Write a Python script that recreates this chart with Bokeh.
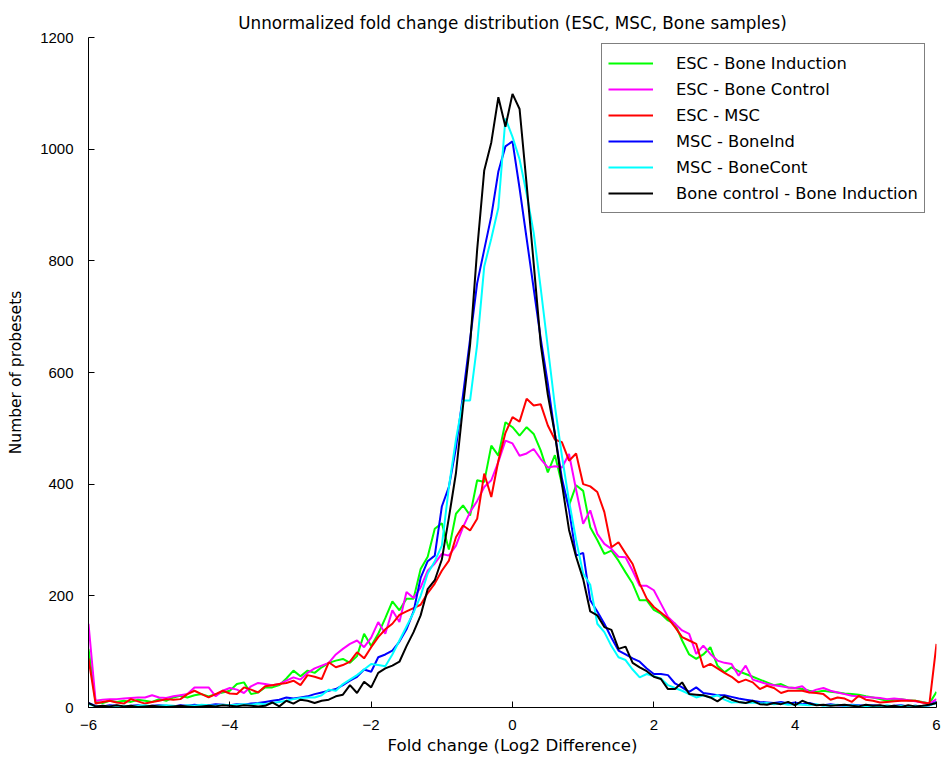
import numpy as np
from bokeh.plotting import figure
from bokeh.models import Legend, LegendItem, FixedTicker, Range1d
from bokeh.embed import file_html
from bokeh.resources import INLINE

# Histogram bins: -6.0 .. 6.0 in steps of 0.1
bin_start = -6.0
bin_width = 0.1
n_bins = 121
fold_change = [round(bin_start + i * bin_width, 1) for i in range(n_bins)]

esc_bone_induction = [
    105, 10, 8, 12, 10, 12, 10, 14, 12, 10,
    15, 12, 18, 21, 18, 22, 24, 20, 24, 27,
    30, 42, 45, 24, 27, 36, 36, 40, 52, 66,
    56, 66, 62, 72, 80, 84, 87, 80, 92, 132,
    110, 132, 160, 190, 174, 195, 195, 248, 270, 320,
    330, 283, 347, 362, 344, 407, 404, 469, 451, 511,
    502,
    487, 502, 490, 460, 421, 452, 400, 362, 398, 388,
    323, 300, 275, 281, 263, 242, 222, 192, 192, 175,
    168, 156, 150, 120, 95, 87, 95, 108, 75, 63,
    72, 65, 60, 55, 50, 45, 40, 42, 36, 35,
    33, 30, 28, 30, 28, 27, 25, 24, 23, 20,
    18, 15, 12, 14, 15, 13, 12, 10, 7, 28,
]

esc_bone_control = [
    150, 12, 14, 15, 15, 16, 17, 18, 18, 22,
    18, 17, 20, 22, 24, 36, 36, 36, 20, 30,
    35, 32, 26, 38, 44, 42, 40, 42, 48, 54,
    50, 62, 70, 75, 80, 95, 105, 114, 120, 108,
    125, 153, 132, 174, 153, 207, 196, 215, 245, 258,
    275, 272, 290, 323, 350, 370, 395, 407, 440, 478,
    473,
    451, 455, 463, 445, 430, 432, 430, 454, 390, 329,
    353, 311, 293, 284, 270, 269, 245, 218, 218, 210,
    186, 162, 150, 138, 132, 96, 111, 96, 84, 80,
    78, 57, 75, 50, 46, 42, 40, 38, 36, 35,
    38, 27, 32, 35, 30, 27, 24, 21, 20, 19,
    18, 17, 15, 16, 15, 13, 11, 9, 7, 15,
]

esc_msc = [
    88, 7, 10, 12, 9, 7, 15, 11, 7, 10,
    12, 15, 14, 15, 24, 30, 24, 18, 24, 30,
    25, 24, 36, 32, 27, 38, 40, 42, 44, 48,
    40, 58, 55, 51, 81, 72, 76, 82, 99, 88,
    108, 126, 140, 150, 166, 172, 178, 184, 205, 222,
    245, 263, 305, 326, 317, 338, 419, 377, 442, 492,
    520,
    512, 553, 541, 543, 505, 480, 475, 442, 455, 400,
    396, 386, 350, 287, 296, 276, 257, 222, 195, 180,
    170, 160, 144, 126, 120, 114, 72, 78, 70, 62,
    55, 45, 50, 45, 33, 39, 35, 26, 30, 30,
    30, 27, 26, 24, 14, 18, 16, 10, 21, 14,
    12, 9, 10, 11, 12, 12, 12, 9, 7, 114,
]

msc_bone_ind = [
    8, 3, 2, 4, 3, 2, 3, 4, 2, 3,
    4, 3, 2, 4, 3, 5, 3, 4, 6, 5,
    4, 6, 5, 7, 8, 10, 12, 14, 18, 16,
    18, 20, 24, 27, 30, 33, 40, 48, 55, 68,
    64, 90, 95, 102, 118, 140, 172, 232, 262, 272,
    360, 395, 465, 560, 660, 760, 820, 880, 960, 1005,
    1014,
    930, 840, 750, 660, 580, 490, 410, 355, 272, 277,
    192, 172, 150, 125, 102, 95, 88, 82, 70, 60,
    60, 58, 43, 36, 28, 36, 26, 24, 22, 22,
    19, 16, 14, 12, 10, 9, 8, 10, 7, 9,
    6, 8, 5, 4, 6, 4, 3, 5, 4, 3,
    4, 3, 2, 3, 4, 2, 3, 2, 4, 10,
]

msc_bone_cont = [
    6, 2, 3, 2, 2, 3, 2, 3, 4, 2,
    3, 4, 3, 2, 4, 3, 5, 4, 3, 5,
    4, 5, 6, 5, 7, 6, 8, 10, 12, 15,
    17, 18, 18, 22, 32, 30, 42, 50, 58, 68,
    78, 76, 74, 95, 120, 145, 170, 200, 240, 262,
    290, 395, 480, 550, 550, 650, 790, 840, 895, 1055,
    1022,
    982, 920, 850, 750, 645, 540, 450, 370, 300, 240,
    220, 150, 135, 110, 90, 85, 68, 54, 60, 56,
    52, 40, 35, 30, 24, 18, 22, 18, 22, 14,
    9, 10, 8, 9, 7, 8, 6, 7, 5, 6,
    5, 4, 6, 3, 4, 5, 3, 4, 3, 2,
    3, 2, 4, 2, 3, 2, 3, 2, 4, 8,
]

bone_control_bone_induction = [
    8, 2, 3, 2, 4, 2, 3, 1, 2, 3,
    2, 1, 2, 3, 2, 1, 2, 3, 2, 4,
    3, 2, 4, 3, 2, 3, 9, 2, 12, 7,
    14, 12, 8, 12, 14, 20, 23, 40, 26, 46,
    36, 62, 70, 75, 82, 110, 135, 165, 212, 228,
    265, 340, 420, 540, 650, 820, 962, 1012, 1093, 1040,
    1099,
    1072, 937, 795, 650, 560, 490, 400, 318, 270, 230,
    172, 165, 144, 139, 105, 109, 80, 72, 65, 55,
    51, 33, 33, 45, 24, 23, 22, 18, 11, 20,
    14, 10, 8, 12, 6, 5, 8, 6, 10, 4,
    12, 7, 4, 5, 3, 4, 5, 3, 2, 5,
    3, 4, 2, 3, 1, 4, 2, 3, 5, 8,
]

series_labels = [
    "ESC - Bone Induction",
    "ESC - Bone Control",
    "ESC - MSC",
    "MSC - BoneInd",
    "MSC - BoneCont",
    "Bone control - Bone Induction",
]
series_values = [
    esc_bone_induction,
    esc_bone_control,
    esc_msc,
    msc_bone_ind,
    msc_bone_cont,
    bone_control_bone_induction,
]
series_colors = ["#00FF00", "#FF00FF", "#FF0000", "#0000FF", "#00FFFF", "#000000"]

chart_title = "Unnormalized fold change distribution (ESC, MSC, Bone samples)"
x_ticks = [-6, -4, -2, 0, 2, 4, 6]
y_ticks = [0, 200, 400, 600, 800, 1000, 1200]

p = figure(
    width=942, height=759,
    output_backend="svg", toolbar_location=None,
    x_range=Range1d(-6, 6), y_range=Range1d(0, 1200),
    min_border_left=88, min_border_right=6,
    min_border_top=37, min_border_bottom=52,
    title=chart_title,
)
p.background_fill_color = "white"
p.border_fill_color = "white"
p.outline_line_color = None
p.grid.visible = False

p.title.align = "center"
p.title.text_font = "DejaVu Sans"
p.title.text_font_size = "16.8px"
p.title.text_font_style = "normal"
p.title.text_color = "black"

for ax in (p.xaxis[0], p.yaxis[0]):
    ax.axis_line_color = "black"
    ax.major_tick_line_color = "black"
    ax.minor_tick_line_color = None
    ax.major_tick_in = 6
    ax.major_tick_out = 0
    ax.major_label_text_font = "Liberation Sans"
    ax.major_label_text_font_size = "15px"
    ax.major_label_text_color = "black"
    ax.axis_label_text_font = "DejaVu Sans"
    ax.axis_label_text_font_style = "normal"
    ax.axis_label_text_color = "black"

p.xaxis.ticker = FixedTicker(ticks=x_ticks)
p.yaxis.ticker = FixedTicker(ticks=y_ticks)
p.xaxis.axis_label = "Fold change (Log2 Difference)"
p.yaxis.axis_label = "Number of probesets"
p.xaxis.axis_label_text_font_size = "16.6px"
p.yaxis.axis_label_text_font_size = "15.5px"
p.xaxis.major_label_standoff = 12
p.yaxis.major_label_standoff = 15
p.xaxis.axis_label_standoff = 3
p.yaxis.axis_label_standoff = 12

items = []
for label, vals, col in zip(series_labels, series_values, series_colors):
    r = p.line(fold_change, vals, line_color=col, line_width=2)
    items.append(LegendItem(label=label, renderers=[r]))

legend = Legend(items=items, location=(513, 494))
legend.margin = 0
legend.padding = 6
legend.spacing = 0
legend.label_height = 26
legend.glyph_height = 20
legend.glyph_width = 45
legend.label_standoff = 23
legend.label_text_font = "DejaVu Sans"
legend.label_text_font_size = "16.3px"
legend.label_text_color = "black"
legend.border_line_color = "black"
legend.border_line_width = 1
legend.background_fill_color = "white"
legend.background_fill_alpha = 1.0
p.add_layout(legend)

open("out.html", "w").write(file_html(p, INLINE))
